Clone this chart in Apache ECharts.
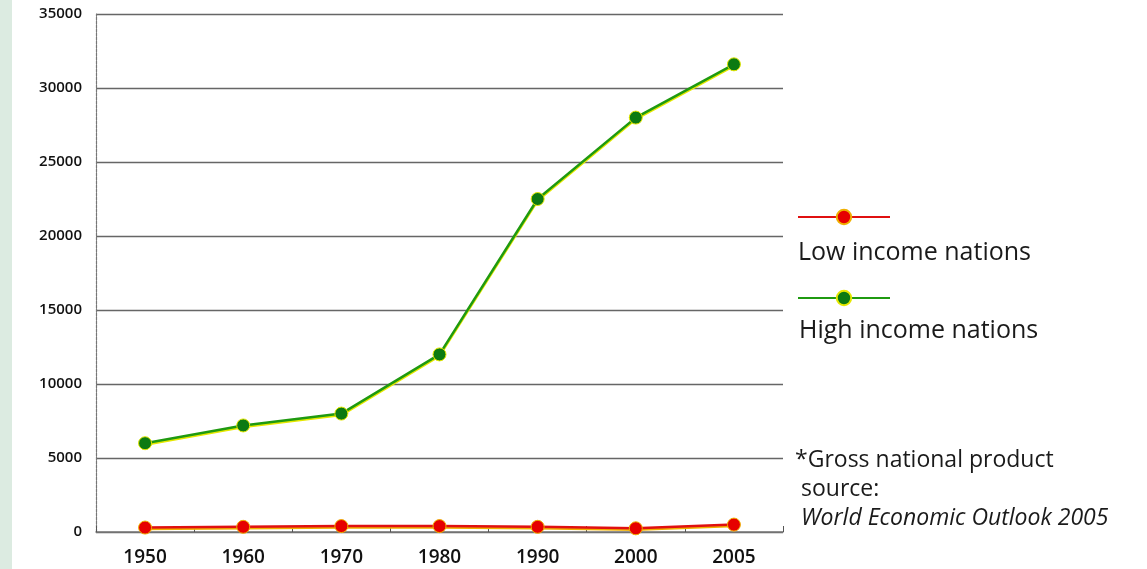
<!DOCTYPE html>
<html>
<head>
<meta charset="utf-8">
<script src="https://cdn.jsdelivr.net/npm/echarts@6/dist/echarts.min.js"></script>
<style>
html,body{margin:0;padding:0;background:#fff;}
#chart{width:1147px;height:569px;}
</style>
</head>
<body>
<div id="chart"></div>
<script>
// GNP per capita (USD), by year
const years = ['1950', '1960', '1970', '1980', '1990', '2000', '2005'];
const lowIncome = [300, 350, 400, 400, 350, 250, 500];
const highIncome = [6000, 7200, 8000, 12000, 22500, 28000, 31600];
const yTicks = [0, 5000, 10000, 15000, 20000, 25000, 30000, 35000];
const lowName = 'Low income nations';
const highName = 'High income nations';
const noteLines = ['*Gross national product', ' source:', ' World Economic Outlook 2005'];

const chart = echarts.init(document.getElementById('chart'));
const font = '"Open Sans", "DejaVu Sans", sans-serif';

function lineSeries(name, data, lineColor, dotColor, glow) {
  return {
    name: name,
    type: 'line',
    data: data,
    symbol: 'circle',
    symbolSize: 13,
    z: name === lowName ? 4 : 3,
    lineStyle: {
      color: lineColor, width: 2.5,
      shadowColor: glow, shadowBlur: 0, shadowOffsetY: 1.5
    },
    itemStyle: { color: dotColor, borderColor: glow, borderWidth: 1 }
  };
}

chart.setOption({
  backgroundColor: '#ffffff',
  animation: false,
  grid: { left: 96, right: 364, top: 14, bottom: 37 },
  legend: [
    {
      data: [lowName], left: 792, top: 203, orient: 'vertical',
      itemWidth: 92, itemHeight: 18, formatter: () => '', selectedMode: false
    },
    {
      data: [highName], left: 792, top: 284, orient: 'vertical',
      itemWidth: 92, itemHeight: 18, formatter: () => '', selectedMode: false
    }
  ],
  xAxis: {
    type: 'category',
    data: years,
    boundaryGap: true,
    axisLine: { lineStyle: { color: '#777', width: 1.5 } },
    axisTick: { show: true, inside: true, length: 6, lineStyle: { color: '#555' } },
    axisLabel: { color: '#111', fontFamily: font, fontSize: 19, fontWeight: 600, margin: 16 },
    splitLine: { show: false }
  },
  yAxis: {
    type: 'value',
    min: yTicks[0], max: yTicks[yTicks.length - 1], interval: 5000,
    axisLine: { show: true, lineStyle: { color: '#777', width: 1.2, type: [3, 1] } },
    axisTick: { show: false },
    axisLabel: {
      color: '#111', fontFamily: font, fontSize: 15, fontWeight: 600, margin: 14,
      formatter: v => String(v)
    },
    splitLine: { lineStyle: { color: '#666', width: 1.3 } }
  },
  series: [
    lineSeries(lowName, lowIncome, '#e01010', '#e60000', '#f0b000'),
    lineSeries(highName, highIncome, '#1f9a10', '#0c7a12', '#e6e800')
  ],
  graphic: [
    { type: 'rect', left: 0, top: 0, shape: { width: 12, height: 569 }, style: { fill: '#dcebe1' } },
    { type: 'text', left: 798, top: 240, style: { text: lowName, font: '25px ' + font, fill: '#1a1a1a' } },
    { type: 'text', left: 799, top: 318, style: { text: highName, font: '25px ' + font, fill: '#1a1a1a' } },
    { type: 'text', left: 795, top: 449, style: { text: noteLines[0], font: '23px ' + font, fill: '#1a1a1a' } },
    { type: 'text', left: 795, top: 478, style: { text: noteLines[1], font: '23px ' + font, fill: '#1a1a1a' } },
    { type: 'text', left: 795, top: 507, style: { text: noteLines[2], font: 'italic 23px ' + font, fill: '#1a1a1a' } }
  ]
});
</script>
</body>
</html>
